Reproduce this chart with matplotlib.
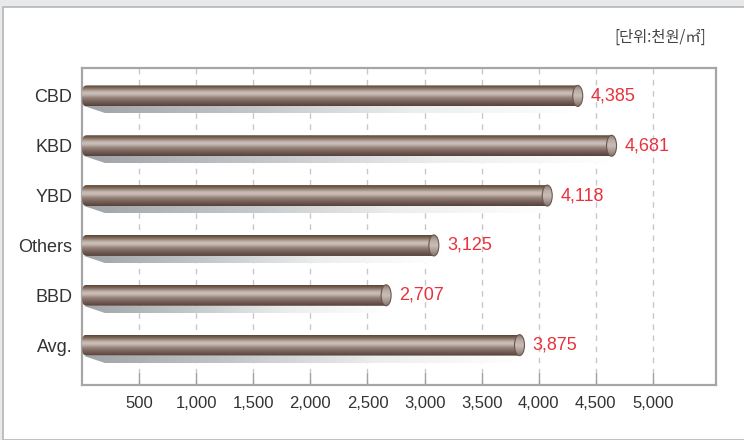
import numpy as np
import matplotlib
matplotlib.use("Agg")
import matplotlib.pyplot as plt
from matplotlib.patches import Rectangle, Polygon, Ellipse, PathPatch
from matplotlib.path import Path
from matplotlib.colors import LinearSegmentedColormap
from matplotlib import font_manager

categories = ["CBD", "KBD", "YBD", "Others", "BBD", "Avg."]
values = [4385, 4681, 4118, 3125, 2707, 3875]
xticks = [500, 1000, 1500, 2000, 2500, 3000, 3500, 4000, 4500, 5000]
xticklabels = ["500", "1,000", "1,500", "2,000", "2,500", "3,000", "3,500", "4,000", "4,500", "5,000"]
unit_label = "[단위:천원/㎡]"

avail = {f.name for f in font_manager.fontManager.ttflist}
narrow = "Liberation Sans Narrow" if "Liberation Sans Narrow" in avail else "Liberation Sans"

W, H = 744, 440
fig = plt.figure(figsize=(W / 100, H / 100), dpi=100)
fig.patch.set_facecolor("#e7e9ea")
fig.patches.append(Rectangle((3 / W, 0), 1, 1 - 7 / H, transform=fig.transFigure,
                             facecolor="white", edgecolor="#b4b6b8", linewidth=1.2, zorder=-10))

L, R, T, B = 82, 716, 68, 385
ax = fig.add_axes([L / W, 1 - B / H, (R - L) / W, (B - T) / H])
ax.set_zorder(1)
xmax = 5552
ax.set_xlim(0, xmax)
ax.set_ylim(5.80, -0.56)
ax.set_facecolor("white")

px_x = xmax / (R - L)          # data units per px in x
px_y = 6.36 / (B - T)          # data units per px in y
bh = 21 * px_y

prof = ["#5a4438", "#76604f", "#9a867b", "#bfb0a8", "#cdc2bc", "#b6a79f",
        "#98847a", "#84706a", "#745f55", "#66514a", "#57423a"]
bar_cmap = LinearSegmentedColormap.from_list("bar", prof)
cap_cmap = LinearSegmentedColormap.from_list("cap", ["#8c7a70", "#b9aca5", "#c8bdb7", "#a99a92", "#85736a"])
shadow_cmap = LinearSegmentedColormap.from_list("sh", ["#9fa3a7", "#c3c6c9", "#eceded", "#ffffff"])

ax.grid(axis="x", color="#c8c8c8", linestyle=(0, (4, 4)), linewidth=1.0, zorder=0)
ax.set_axisbelow(True)

grad_v = np.linspace(0, 1, 64).reshape(-1, 1)
grad_h = np.linspace(0, 1, 128).reshape(1, -1)

for i, (c, v) in enumerate(zip(categories, values)):
    top = i - bh / 2
    bot = i + bh / 2
    sh_h = 7 * px_y
    off = 21 * px_x
    x0 = 2 * px_x
    shadow = Polygon([(x0, bot), (v, bot), (v, bot + sh_h), (x0 + off, bot + sh_h)],
                     closed=True, facecolor="none", edgecolor="none", transform=ax.transData)
    ax.add_patch(shadow)
    im = ax.imshow(grad_h, cmap=shadow_cmap, aspect="auto", extent=[0, v, bot + sh_h, bot],
                   zorder=2, interpolation="bilinear")
    im.set_clip_path(shadow)
    rl = 5 * px_x
    rr = 5 * px_x
    k = 0.55
    verts = [(rl, top), (v - rr, top), (v - rr, bot), (rl, bot),
             (0, bot), (0, bot - bh * (1 - k) / 2), (0, i),
             (0, top + bh * (1 - k) / 2), (0, top), (rl, top), (rl, top)]
    codes = [Path.MOVETO, Path.LINETO, Path.LINETO, Path.LINETO,
             Path.CURVE4, Path.CURVE4, Path.CURVE4,
             Path.CURVE4, Path.CURVE4, Path.CURVE4, Path.CLOSEPOLY]
    body = PathPatch(Path(verts, codes), facecolor="none", edgecolor="none")
    ax.add_patch(body)
    im2 = ax.imshow(grad_v, cmap=bar_cmap, aspect="auto", extent=[0, v - rr, bot, top],
                    zorder=3, interpolation="bilinear")
    im2.set_clip_path(body)
    cap = Ellipse((v - rr, i), 2 * rr, bh, facecolor="none", edgecolor="#6a564c", linewidth=0.8, zorder=5)
    ax.add_patch(cap)
    im3 = ax.imshow(grad_v, cmap=cap_cmap, aspect="auto", extent=[v - 2 * rr, v, bot, top],
                    zorder=4, interpolation="bilinear")
    im3.set_clip_path(cap)
    ax.text(v + 8 * px_x, i, f"{v:,}", color="#e8323c", fontsize=13, va="center", ha="left",
            family=[narrow, "DejaVu Sans"], zorder=6)

ax.set_xlim(0, xmax)
ax.set_ylim(5.80, -0.56)
ax.set_yticks(range(len(categories)))
ax.set_yticklabels(categories, family=[narrow, "DejaVu Sans"], fontsize=13, color="#333333")
ax.set_xticks(xticks)
ax.set_xticklabels(xticklabels, family=[narrow, "DejaVu Sans"], fontsize=12, color="#333333")
ax.tick_params(axis="y", length=0, pad=7)
ax.tick_params(axis="x", direction="in", length=9, width=1, color="#a0a0a0", pad=8)
for s in ax.spines.values():
    s.set_color("#a6a6a6")
    s.set_linewidth(1.6)

fig.text(706 / W, 1 - 37 / H, unit_label, ha="right", va="center", fontsize=11, color="#444444",
         family=["Noto Sans CJK KR", "DejaVu Sans"])

fig.savefig("out.png", dpi=100)
